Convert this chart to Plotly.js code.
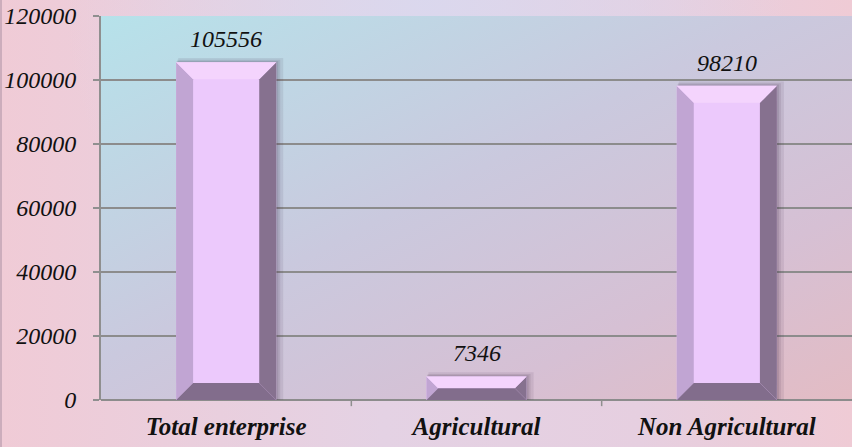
<!DOCTYPE html>
<html><head><meta charset="utf-8">
<script src="https://cdn.plot.ly/plotly-3.0.1.min.js"></script>
<style>
html,body{margin:0;padding:0;}
#chart{width:852px;height:447px;
background:
 radial-gradient(ellipse at 50% 0%, rgba(218,216,238,0.95) 0%, rgba(218,216,238,0.0) 60%),
 linear-gradient(90deg,#f0cbd6 0%,#e4d2e4 45%,#e6cfe0 75%,#efcbd5 100%);
box-shadow: inset 3px 0 0 -1px rgba(200,170,185,0.9);}
#chart svg text, #chart svg tspan {font-family: 'Liberation Serif' !important;}
</style></head>
<body><div id="chart"></div>
<script>
const categories = ["Total enterprise", "Agricultural", "Non Agricultural"];
const values = [105556, 7346, 98210];
const yTickVals = [0, 20000, 40000, 60000, 80000, 100000, 120000];
const yTickText = ["0", "20000", "40000", "60000", "80000", "100000", "120000"];

const W = 852, H = 447;
const M = {l: 101, r: 0, t: 16, b: 47};
const yMax = 120000;
const pxPerY = (H - M.t - M.b) / yMax;
const pxPerX = (W - M.l - M.r) / categories.length;
const halfW = 0.2;
const bevelPx = 17;

const colFace = '#ecc9fc', colTop = '#f4d4fd', colLeft = '#c1a5d3', colRight = '#86718f', colBottom = '#826d8c';

const xIdx = categories.map((c, i) => i);
const shapes = [];
function poly(pts, color, layer) {
  return {type: 'path', xref: 'x', yref: 'y', layer: layer || 'above',
    path: 'M ' + pts.map(p => p[0] + ',' + p[1]).join(' L ') + ' Z',
    fillcolor: color, line: {width: 0}};
}
values.forEach((v, i) => {
  const hpx = v * pxPerY;
  const b = Math.min(bevelPx, hpx / 2);
  const bx = b / pxPerX, by = b / pxPerY;
  const xL = i - halfW, xR = i + halfW;
  [[7, 0.10], [4, 0.12], [2, 0.14]].forEach(s => {
    const sx = s[0] / pxPerX, sy = s[0] / pxPerY;
    shapes.push({type: 'rect', xref: 'x', yref: 'y', layer: 'between',
      x0: xL + sx * 0.3, x1: xR + sx, y0: 0, y1: v + sy * 0.6,
      fillcolor: 'rgba(70,50,80,' + s[1] + ')', line: {width: 0}});
  });
  shapes.push(poly([[xL, 0], [xL, v], [xL + bx, v - by], [xL + bx, by]], colLeft));
  shapes.push(poly([[xR, 0], [xR, v], [xR - bx, v - by], [xR - bx, by]], colRight));
  shapes.push(poly([[xL, v], [xR, v], [xR - bx, v - by], [xL + bx, v - by]], colTop));
  shapes.push(poly([[xL, 0], [xR, 0], [xR - bx, by], [xL + bx, by]], colBottom));
});

const annotations = values.map((v, i) => ({
  x: i, y: v, xref: 'x', yref: 'y', text: String(v), showarrow: false,
  yanchor: 'bottom', yshift: 8,
  font: {family: 'Liberation Serif', size: 24, color: '#111', style: 'italic'}
}));

const bgSvg = "<svg xmlns='http://www.w3.org/2000/svg' width='100' height='100' viewBox='0 0 100 100' preserveAspectRatio='none'>" +
 "<defs><linearGradient id='g' x1='0' y1='0' x2='1' y2='1'>" +
 "<stop offset='0' stop-color='#b6e2ea'/><stop offset='0.45' stop-color='#cac9de'/>" +
 "<stop offset='0.75' stop-color='#d6c0d4'/><stop offset='1' stop-color='#e3bcc4'/>" +
 "</linearGradient></defs><rect width='100' height='100' fill='url(#g)'/></svg>";

const trace = {
  type: 'bar', x: xIdx, y: values, width: halfW * 2,
  marker: {color: colFace, line: {width: 0}},
  hoverinfo: 'skip'
};

const layout = {
  width: W, height: H,
  margin: M,
  paper_bgcolor: 'rgba(0,0,0,0)', plot_bgcolor: 'rgba(0,0,0,0)',
  showlegend: false,
  images: [{source: 'data:image/svg+xml;charset=utf-8,' + encodeURIComponent(bgSvg),
    xref: 'paper', yref: 'paper', x: 0, y: 1, sizex: 1, sizey: 1,
    sizing: 'stretch', xanchor: 'left', yanchor: 'top', layer: 'below'}],
  xaxis: {
    range: [-0.5, 2.5], tickvals: xIdx, ticktext: categories,
    showgrid: false, zeroline: false, showline: false,
    ticks: '', ticklabelstandoff: 9,
    tickfont: {family: 'Liberation Serif', size: 25, color: '#111', style: 'italic', weight: 'bold'},
    fixedrange: true
  },
  yaxis: {
    range: [0, yMax], tickvals: yTickVals, ticktext: yTickText,
    showgrid: true, gridcolor: '#8c8c8c', gridwidth: 1.5,
    zeroline: true, zerolinecolor: '#8c8c8c', zerolinewidth: 1.5,
    showline: true, linecolor: '#8f8f8f', linewidth: 2,
    ticks: 'outside', ticklen: 6, tickcolor: '#8f8f8f', tickwidth: 1.5,
    ticklabelstandoff: 12,
    tickfont: {family: 'Liberation Serif', size: 24, color: '#111', style: 'italic'},
    fixedrange: true
  },
  shapes: shapes.concat([0.5, 1.5].map(b => ({type: 'line', xref: 'x', yref: 'paper',
    x0: b, x1: b, y0: 0, y1: -0.016, line: {color: '#8f8f8f', width: 1.5}}))),
  annotations: annotations
};

Plotly.newPlot('chart', [trace], layout, {displayModeBar: false});
</script></body></html>
